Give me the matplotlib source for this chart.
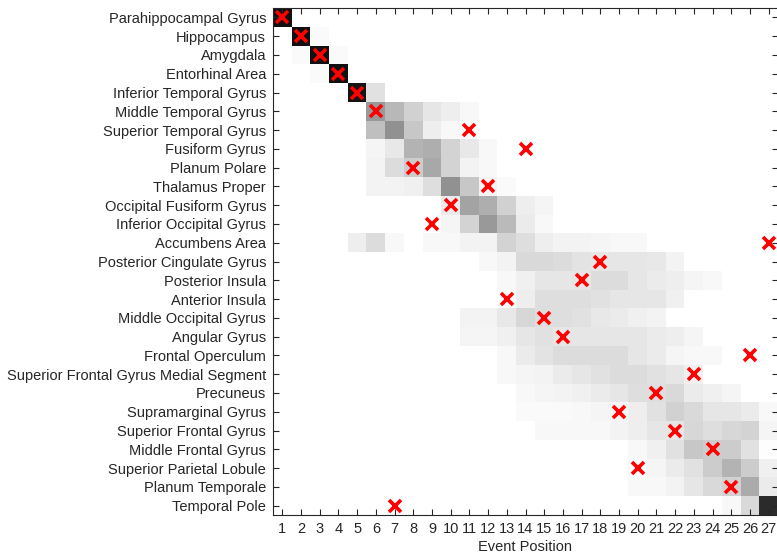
import numpy as np
import matplotlib
matplotlib.use('Agg')
import matplotlib.pyplot as plt

# region names, top to bottom
regions = ['Parahippocampal Gyrus', 'Hippocampus', 'Amygdala', 'Entorhinal Area',
           'Inferior Temporal Gyrus', 'Middle Temporal Gyrus', 'Superior Temporal Gyrus',
           'Fusiform Gyrus', 'Planum Polare', 'Thalamus Proper', 'Occipital Fusiform Gyrus',
           'Inferior Occipital Gyrus', 'Accumbens Area', 'Posterior Cingulate Gyrus',
           'Posterior Insula', 'Anterior Insula', 'Middle Occipital Gyrus', 'Angular Gyrus',
           'Frontal Operculum', 'Superior Frontal Gyrus Medial Segment', 'Precuneus',
           'Supramarginal Gyrus', 'Superior Frontal Gyrus', 'Middle Frontal Gyrus',
           'Superior Parietal Lobule', 'Planum Temporale', 'Temporal Pole']

n_events = 27
event_positions = list(range(1, n_events + 1))

# maximum-likelihood event position of each region (red crosses)
ml_position = [1, 2, 3, 4, 5, 6, 11, 14, 8, 12, 10, 9, 27, 18, 17, 13, 15, 16, 26,
               23, 21, 19, 22, 24, 20, 25, 7]

# positional confidence per region: (first event position, values from there on)
confidence = [
    (1, [0.93]),
    (2, [0.93, 0.02]),
    (2, [0.02, 0.93, 0.02]),
    (3, [0.02, 0.93]),
    (5, [0.92, 0.12]),
    (6, [0.40, 0.28, 0.18, 0.10, 0.07, 0.03]),
    (6, [0.25, 0.43, 0.22, 0.07, 0.03]),
    (6, [0.04, 0.09, 0.30, 0.32, 0.17, 0.09, 0.03]),
    (6, [0.05, 0.14, 0.20, 0.34, 0.17, 0.05, 0.03]),
    (6, [0.05, 0.05, 0.06, 0.13, 0.43, 0.22, 0.05, 0.02]),
    (10, [0.08, 0.36, 0.32, 0.18, 0.07, 0.04]),
    (10, [0.04, 0.17, 0.40, 0.27, 0.08, 0.03]),
    (5, [0.07, 0.14, 0.03, 0.0, 0.03, 0.03, 0.05, 0.05, 0.17, 0.13, 0.07, 0.05, 0.05, 0.04, 0.03, 0.03]),
    (12, [0.03, 0.05, 0.15, 0.15, 0.14, 0.11, 0.10, 0.10, 0.10, 0.09, 0.05]),
    (13, [0.03, 0.06, 0.10, 0.10, 0.10, 0.14, 0.14, 0.10, 0.08, 0.07, 0.04, 0.03]),
    (14, [0.07, 0.13, 0.13, 0.13, 0.12, 0.10, 0.10, 0.10, 0.06]),
    (11, [0.05, 0.05, 0.09, 0.16, 0.13, 0.13, 0.12, 0.09, 0.08, 0.06, 0.05]),
    (11, [0.04, 0.04, 0.06, 0.10, 0.12, 0.10, 0.10, 0.10, 0.10, 0.10, 0.08, 0.07, 0.04]),
    (13, [0.03, 0.08, 0.11, 0.14, 0.14, 0.14, 0.14, 0.10, 0.08, 0.04, 0.03, 0.03]),
    (13, [0.03, 0.04, 0.05, 0.08, 0.10, 0.12, 0.14, 0.14, 0.12, 0.10, 0.06]),
    (14, [0.03, 0.04, 0.05, 0.06, 0.08, 0.10, 0.13, 0.13, 0.15, 0.08, 0.06, 0.04]),
    (14, [0.02, 0.02, 0.02, 0.03, 0.04, 0.04, 0.07, 0.12, 0.18, 0.15, 0.10, 0.10, 0.08, 0.03]),
    (15, [0.03, 0.03, 0.03, 0.03, 0.05, 0.07, 0.10, 0.10, 0.16, 0.13, 0.16, 0.17, 0.04]),
    (20, [0.03, 0.06, 0.12, 0.22, 0.20, 0.20, 0.12, 0.01]),
    (20, [0.02, 0.04, 0.08, 0.12, 0.20, 0.30, 0.20, 0.06]),
    (20, [0.03, 0.03, 0.05, 0.10, 0.15, 0.18, 0.33, 0.08]),
    (25, [0.03, 0.15, 0.83]),
]

# build the matrix
mat = np.zeros((len(regions), n_events))
for i, (start, vals) in enumerate(confidence):
    mat[i, start - 1:start - 1 + len(vals)] = vals

txt = '#262626'
plt.rcParams['font.family'] = ['Liberation Sans', 'DejaVu Sans']
plt.rcParams['font.size'] = 10.5

fig = plt.figure(figsize=(7.77, 5.54), dpi=100)
ax = fig.add_axes([273 / 777, 39 / 554, 505 / 777, 507 / 554])

ax.imshow(mat, cmap='gray_r', vmin=0, vmax=1, interpolation='nearest', aspect='auto',
          extent=(0.5, n_events + 0.5, len(regions) + 0.5, 0.5))

ypos = np.arange(1, len(regions) + 1)
ax.plot(ml_position, ypos, linestyle='none', marker='x', color='red', ms=9, mew=2.6)

ax.set_xlim(0.5, n_events + 0.5)
ax.set_ylim(len(regions) + 0.5, 0.5)
ax.set_xticks(event_positions)
ax.set_yticks(ypos)
ax.set_yticklabels(regions)
ax.tick_params(direction='in', length=4, width=0.8, colors=txt, top=True, right=True,
               labelsize=10.5)
ax.tick_params(axis='y', pad=5)
ax.tick_params(axis='x', pad=5)
ax.set_xlabel('Event Position', color=txt, fontsize=10.5, labelpad=3)
for s in ax.spines.values():
    s.set_color(txt)
    s.set_linewidth(0.8)

fig.savefig('out.png', dpi=100)
